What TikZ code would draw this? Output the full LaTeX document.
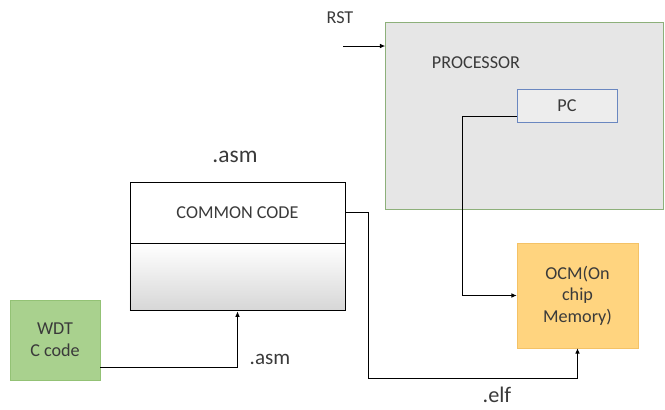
\documentclass[tikz,border=0pt]{standalone}
\usepackage{fontspec}
\setmainfont{Carlito}
\usepackage{xcolor}
\usetikzlibrary{arrows.meta, positioning}

\definecolor{txtgray}{HTML}{3A3A3A}
\definecolor{procfill}{HTML}{E6E6E6}
\definecolor{procedge}{HTML}{8DB07A}
\definecolor{pcedge}{HTML}{6A87C0}
\definecolor{wdtfill}{HTML}{A9D18E}
\definecolor{wdtedge}{HTML}{93C275}
\definecolor{ocmfill}{HTML}{FFD47F}
\definecolor{ocmedge}{HTML}{F4C266}

\begin{document}
\begin{tikzpicture}[
  x=0.03cm, y=-0.03cm,
  every node/.style={text=txtgray, font=\fontsize{15.5}{18.5}\selectfont},
  proc/.style={draw=procedge, fill=procfill, minimum width=8.34cm, minimum height=5.61cm},
  reg/.style={draw=pcedge, thick, fill=procfill!70!white, minimum width=3cm, minimum height=0.99cm},
  codebox/.style={draw, thick, minimum width=6.45cm, inner sep=0pt},
  srcbox/.style={draw=wdtedge, fill=wdtfill, minimum width=2.7cm, minimum height=2.4cm, align=center},
  mem/.style={draw=ocmedge, fill=ocmfill, minimum width=3.63cm, minimum height=3.15cm, align=center},
  tag/.style={font=\fontsize{20}{24}\selectfont},
  line/.style={draw, line width=0.8pt, -{Latex[length=1.6mm, width=1.4mm]}}
]
\useasboundingbox (0,0) rectangle (665,409);

% Processor with program counter
\node (proc) [proc] at (524.5,115.5) {};
\node (proclabel) at (476,63) {PROCESSOR};
\node (pc) [reg] at (567,105.5) {PC};
\node (rst) at (340,18) {RST};
\coordinate (rstin) at (343,46);

% Common code block
\node (cctop) [codebox, minimum height=1.83cm] at (237.5,212.5) {COMMON CODE};
\node (ccbot) [codebox, minimum height=2.01cm, top color=white, bottom color=gray!32,
  below=0pt of cctop] {};
\node (asmtop) [tag] at (235,157) {.asm};

% WDT source
\node (wdt) [srcbox] at (55,340) {WDT\\C code};
\node (asmlow) [tag, font=\fontsize{18}{22}\selectfont] at (270,359) {.asm};

% On chip memory
\node (ocm) [mem] at (577.5,295.5) {OCM(On\\chip\\Memory)};
\coordinate (elfturn) at (368,378);
\node (elf) [tag, font=\fontsize{19}{22}\selectfont] at (497,395) {.elf};

% Connections
\draw [line] (rstin) -- (rstin -| proc.west);
\draw [line] ([yshift=-0.33cm]pc.west) -- ++(-54,0) |- (ocm.west);
\draw [line] ([yshift=-0.81cm]wdt.east) -| (ccbot.south);
\draw [line] (cctop.east) -| (elfturn) -| (ocm.south);

\end{tikzpicture}
\end{document}
